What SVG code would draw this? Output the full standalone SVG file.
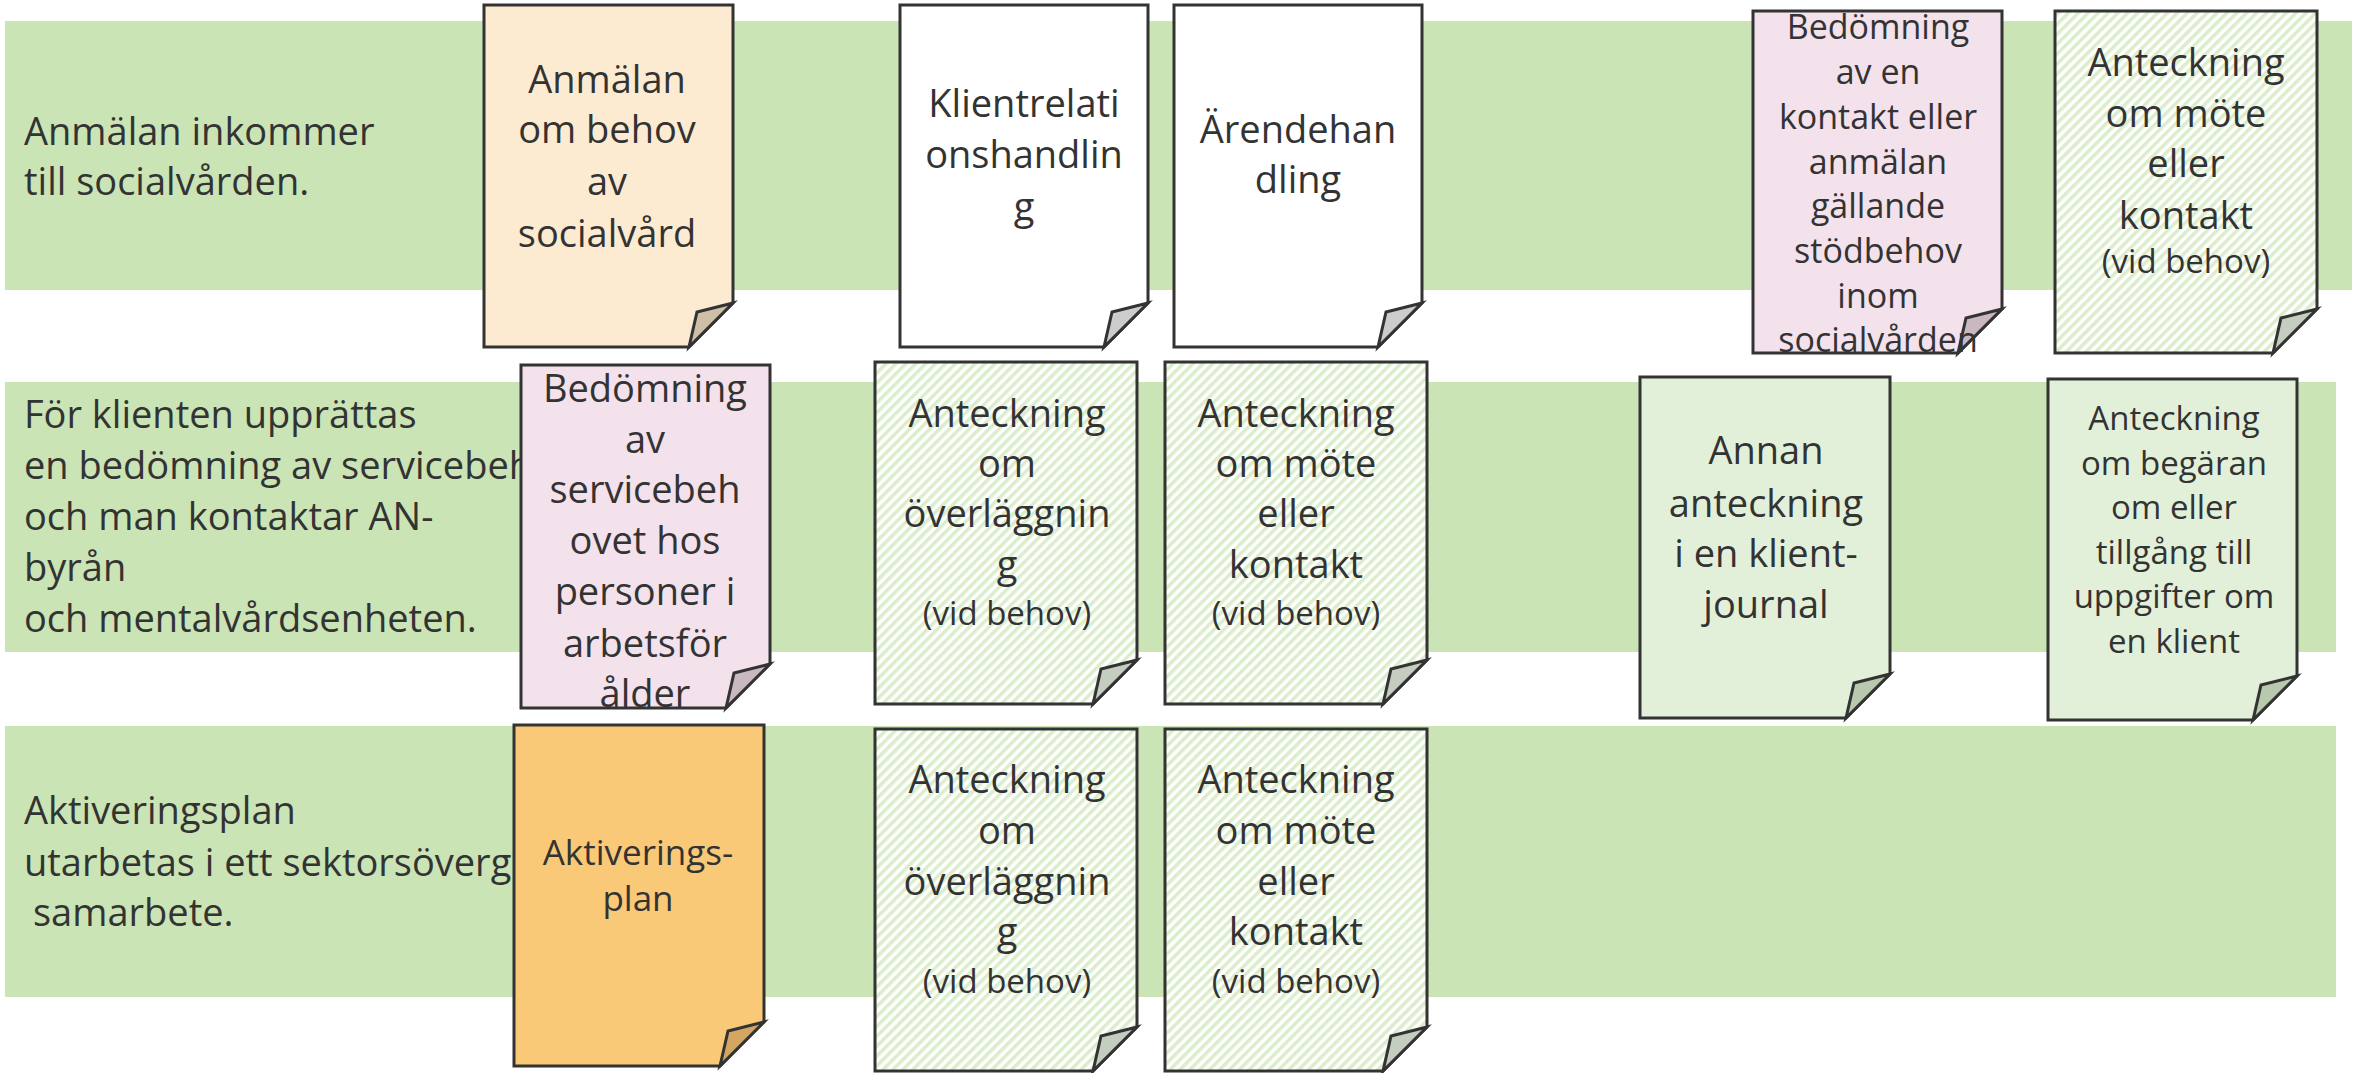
<svg xmlns="http://www.w3.org/2000/svg" width="2356" height="1073" viewBox="0 0 2356 1073">
  <style>
    .band { fill: #cae4b5; }
    .doc { stroke: #333333; stroke-width: 3; stroke-linejoin: miter; }
    .txt { font-family: "Open Sans", "Noto Sans", sans-serif; fill: #333333; font-size: 38px; text-anchor: middle; }
    .lbl { font-family: "Open Sans", "Noto Sans", sans-serif; fill: #333333; font-size: 38px; }
    .sm { font-size: 33px; }
    .md { font-size: 34px; }
    .tan { fill: #fdebd1; } .tanF { fill: #cdbfa8; }
    .white { fill: #ffffff; } .whiteF { fill: #cccccc; }
    .pink { fill: #f3e1eb; } .pinkF { fill: #c9b8c2; }
    .hatch { fill: url(#stripes); } .hatchF { fill: #c5cdc1; }
    .lgreen { fill: #e3f0d9; } .lgreenF { fill: #b9c9ad; }
    .orange { fill: #f9c977; } .orangeF { fill: #d3a763; }
  </style>
  <defs>
    <pattern id="stripes" patternUnits="userSpaceOnUse" width="7" height="7" patternTransform="rotate(45)">
      <rect width="7" height="7" fill="#ffffff"/>
      <rect width="3.5" height="7" fill="#dbedcb"/>
    </pattern>
    <clipPath id="clipD"><rect x="1753" y="11" width="249" height="342"/></clipPath>
    <clipPath id="clipF"><rect x="521" y="365" width="249" height="343"/></clipPath>
    <clipPath id="clipRow3"><rect x="0" y="726" width="513" height="271"/></clipPath>
  </defs>

  <rect width="2356" height="1073" fill="#ffffff"/>

  <!-- swimlane bands with their descriptions -->
  <g id="lane-1">
    <rect class="band" x="5" y="21" width="2347" height="269"/>
    <text class="lbl" x="24" y="145">Anmälan inkommer</text>
    <text class="lbl" x="24" y="195">till socialvården.</text>
  </g>
  <g id="lane-2">
    <rect class="band" x="5" y="382" width="2331" height="270"/>
    <text class="lbl" x="24" y="428">För klienten upprättas</text>
    <text class="lbl" x="24" y="479">en bedömning av servicebeh</text>
    <text class="lbl" x="24" y="530">och man kontaktar AN-</text>
    <text class="lbl" x="24" y="581">byrån</text>
    <text class="lbl" x="24" y="632">och mentalvårdsenheten.</text>
  </g>
  <g id="lane-3">
    <rect class="band" x="5" y="726" width="2331" height="271"/>
    <g clip-path="url(#clipRow3)">
      <text class="lbl" x="24" y="824">Aktiveringsplan</text>
      <text class="lbl" x="24" y="876">utarbetas i ett sektorsöverg</text>
      <text class="lbl" x="33" y="926">samarbete.</text>
    </g>
  </g>

  <g id="connectors"/>

  <!-- row 1 documents -->
  <g id="doc-anmalan">
    <path class="doc tan" d="M484 5 H733 V303 L689 347 H484 Z"/>
    <path class="doc tanF" d="M733 303 L697 312 L689 347 Z"/>
    <text class="txt" x="607" y="93">Anmälan</text>
    <text class="txt" x="607" y="143">om behov</text>
    <text class="txt" x="607" y="195">av</text>
    <text class="txt" x="607" y="247">socialvård</text>
  </g>
  <g id="doc-klientrelation">
    <path class="doc white" d="M900 5 H1148 V303 L1104 347 H900 Z"/>
    <path class="doc whiteF" d="M1148 303 L1112 312 L1104 347 Z"/>
    <text class="txt" x="1024" y="117">Klientrelati</text>
    <text class="txt" x="1024" y="168">onshandlin</text>
    <text class="txt" x="1024" y="220">g</text>
  </g>
  <g id="doc-arende">
    <path class="doc white" d="M1174 5 H1422 V303 L1378 347 H1174 Z"/>
    <path class="doc whiteF" d="M1422 303 L1386 312 L1378 347 Z"/>
    <text class="txt" x="1298" y="143">Ärendehan</text>
    <text class="txt" x="1298" y="193">dling</text>
  </g>
  <g id="doc-bedomning-kontakt">
    <path class="doc pink" d="M1753 11 H2002 V309 L1958 353 H1753 Z"/>
    <path class="doc pinkF" d="M2002 309 L1966 318 L1958 353 Z"/>
    <g clip-path="url(#clipD)">
      <text class="txt md" x="1878" y="39">Bedömning</text>
      <text class="txt md" x="1878" y="84">av en</text>
      <text class="txt md" x="1878" y="129">kontakt eller</text>
      <text class="txt md" x="1878" y="174">anmälan</text>
      <text class="txt md" x="1878" y="218">gällande</text>
      <text class="txt md" x="1878" y="263">stödbehov</text>
      <text class="txt md" x="1878" y="308">inom</text>
      <text class="txt md" x="1878" y="352">socialvården</text>
    </g>
  </g>
  <g id="doc-mote-1">
    <path class="doc hatch" d="M2055 11 H2317 V309 L2273 353 H2055 Z"/>
    <path class="doc hatchF" d="M2317 309 L2281 318 L2273 353 Z"/>
    <text class="txt" x="2186" y="76">Anteckning</text>
    <text class="txt" x="2186" y="127">om möte</text>
    <text class="txt" x="2186" y="177">eller</text>
    <text class="txt" x="2186" y="229">kontakt</text>
    <text class="txt sm" x="2186" y="273">(vid behov)</text>
  </g>

  <!-- row 2 documents -->
  <g id="doc-bedomning-service">
    <path class="doc pink" d="M521 365 H770 V664 L726 708 H521 Z"/>
    <path class="doc pinkF" d="M770 664 L734 673 L726 708 Z"/>
    <g clip-path="url(#clipF)">
      <text class="txt" x="645" y="402">Bedömning</text>
      <text class="txt" x="645" y="453">av</text>
      <text class="txt" x="645" y="503">servicebeh</text>
      <text class="txt" x="645" y="554">ovet hos</text>
      <text class="txt" x="645" y="605">personer i</text>
      <text class="txt" x="645" y="657">arbetsför</text>
      <text class="txt" x="645" y="707">ålder</text>
    </g>
  </g>
  <g id="doc-overlaggning-2">
    <path class="doc hatch" d="M875 362 H1137 V660 L1093 704 H875 Z"/>
    <path class="doc hatchF" d="M1137 660 L1101 669 L1093 704 Z"/>
    <text class="txt" x="1007" y="427">Anteckning</text>
    <text class="txt" x="1007" y="477">om</text>
    <text class="txt" x="1007" y="527">överläggnin</text>
    <text class="txt" x="1007" y="578">g</text>
    <text class="txt sm" x="1007" y="625">(vid behov)</text>
  </g>
  <g id="doc-mote-2">
    <path class="doc hatch" d="M1165 362 H1427 V660 L1383 704 H1165 Z"/>
    <path class="doc hatchF" d="M1427 660 L1391 669 L1383 704 Z"/>
    <text class="txt" x="1296" y="427">Anteckning</text>
    <text class="txt" x="1296" y="477">om möte</text>
    <text class="txt" x="1296" y="527">eller</text>
    <text class="txt" x="1296" y="578">kontakt</text>
    <text class="txt sm" x="1296" y="625">(vid behov)</text>
  </g>
  <g id="doc-annan">
    <path class="doc lgreen" d="M1640 377 H1890 V674 L1846 718 H1640 Z"/>
    <path class="doc lgreenF" d="M1890 674 L1854 683 L1846 718 Z"/>
    <text class="txt" x="1766" y="464">Annan</text>
    <text class="txt" x="1766" y="517">anteckning</text>
    <text class="txt" x="1766" y="567">i en klient-</text>
    <text class="txt" x="1766" y="618">journal</text>
  </g>
  <g id="doc-begaran">
    <path class="doc lgreen" d="M2048 379 H2297 V676 L2253 720 H2048 Z"/>
    <path class="doc lgreenF" d="M2297 676 L2261 685 L2253 720 Z"/>
    <text class="txt sm" x="2174" y="430">Anteckning</text>
    <text class="txt sm" x="2174" y="475">om begäran</text>
    <text class="txt sm" x="2174" y="519">om eller</text>
    <text class="txt sm" x="2174" y="564">tillgång till</text>
    <text class="txt sm" x="2174" y="608">uppgifter om</text>
    <text class="txt sm" x="2174" y="653">en klient</text>
  </g>

  <!-- row 3 documents -->
  <g id="doc-aktiveringsplan">
    <path class="doc orange" d="M514 725 H764 V1022 L720 1066 H514 Z"/>
    <path class="doc orangeF" d="M764 1022 L728 1031 L720 1066 Z"/>
    <text class="txt" x="638" y="865" style="font-size:35px">Aktiverings-</text>
    <text class="txt" x="638" y="911" style="font-size:35px">plan</text>
  </g>
  <g id="doc-overlaggning-3">
    <path class="doc hatch" d="M875 729 H1137 V1027 L1093 1071 H875 Z"/>
    <path class="doc hatchF" d="M1137 1027 L1101 1036 L1093 1071 Z"/>
    <text class="txt" x="1007" y="793">Anteckning</text>
    <text class="txt" x="1007" y="844">om</text>
    <text class="txt" x="1007" y="895">överläggnin</text>
    <text class="txt" x="1007" y="945">g</text>
    <text class="txt sm" x="1007" y="993">(vid behov)</text>
  </g>
  <g id="doc-mote-3">
    <path class="doc hatch" d="M1165 729 H1427 V1027 L1383 1071 H1165 Z"/>
    <path class="doc hatchF" d="M1427 1027 L1391 1036 L1383 1071 Z"/>
    <text class="txt" x="1296" y="793">Anteckning</text>
    <text class="txt" x="1296" y="844">om möte</text>
    <text class="txt" x="1296" y="895">eller</text>
    <text class="txt" x="1296" y="945">kontakt</text>
    <text class="txt sm" x="1296" y="993">(vid behov)</text>
  </g>
</svg>
